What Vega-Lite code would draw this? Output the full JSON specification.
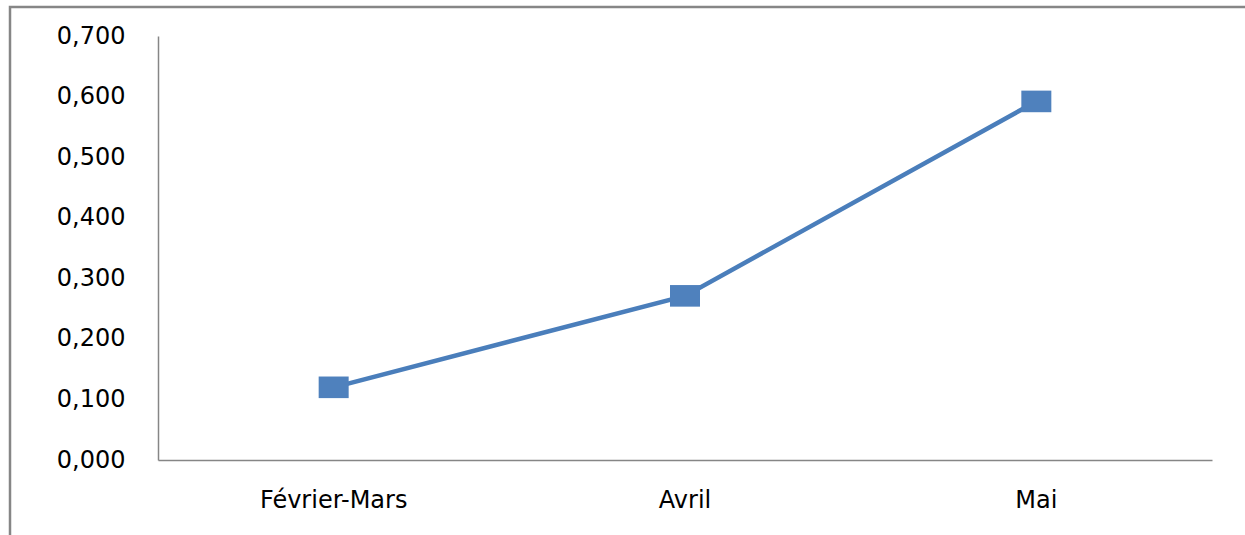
{
  "$schema": "https://vega.github.io/schema/vega-lite/v6.json",
  "autosize": {"type": "none"},
  "padding": {"left": 10, "top": 7, "right": 0, "bottom": 0},
  "width": 1245,
  "height": 535,
  "background": "white",
  "config": {
    "locale": {"number": {"decimal": ",", "thousands": " ", "grouping": [3], "currency": ["", " €"]}},
    "view": {"stroke": "#868686", "strokeWidth": 2.5},
    "axis": {"grid": false, "ticks": false, "domainColor": "#868686", "domainWidth": 1.5, "labelFont": "DejaVu Sans", "labelColor": "#000000", "title": null}
  },
  "data": {"values": [
    {"periode": "Février-Mars", "valeur": 0.120},
    {"periode": "Avril", "valeur": 0.271},
    {"periode": "Mai", "valeur": 0.592}
  ]},
  "encoding": {
    "x": {"field": "periode", "type": "nominal", "sort": null,
      "scale": {"type": "band", "range": [148, 1202], "paddingInner": 0, "paddingOuter": 0},
      "axis": {"orient": "bottom", "offset": -82, "labelAngle": 0, "labelFontSize": 24, "labelPadding": 28}},
    "y": {"field": "valeur", "type": "quantitative",
      "scale": {"domain": [0, 0.7], "range": [453, 29], "nice": false, "zero": true},
      "axis": {"orient": "left", "offset": -148, "values": [0, 0.1, 0.2, 0.3, 0.4, 0.5, 0.6, 0.7], "format": ".3f", "labelFontSize": 24, "labelPadding": 33}}
  },
  "layer": [
    {"mark": {"type": "line", "color": "#4A7EBB", "strokeWidth": 4.5}},
    {"mark": {"type": "point", "filled": true, "opacity": 1, "color": "#4F81BD", "size": 900, "shape": "M-1,-0.72L1,-0.72L1,0.72L-1,0.72Z"}}
  ]
}
